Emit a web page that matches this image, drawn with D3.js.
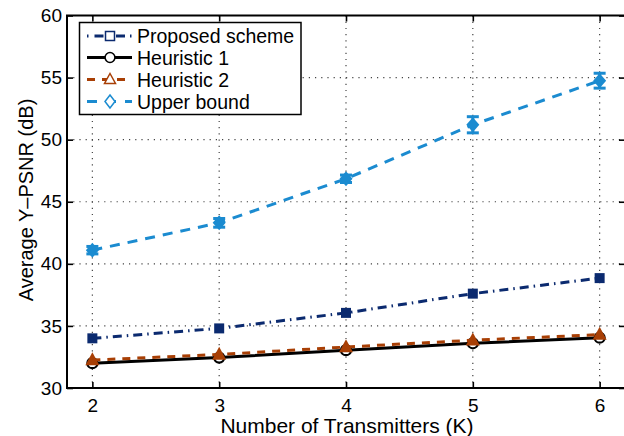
<!DOCTYPE html>
<html>
<head>
<meta charset="utf-8">
<script src="https://cdn.jsdelivr.net/npm/d3@7"></script>
<style>
  html, body { margin: 0; padding: 0; background: #fff; }
  svg { display: block; }
  text { font-family: "Liberation Sans", Arial, Helvetica, sans-serif; fill: #000; }
</style>
</head>
<body>
<svg id="chart" width="624" height="436"></svg>
<script>
// Number of transmitters on the x axis
const transmitters = [2, 3, 4, 5, 6];

// Average Y-PSNR (dB) for each scheme
const proposedScheme = [34.0, 34.8, 36.05, 37.6, 38.85];
const heuristic1 = [32.0, 32.45, 33.05, 33.6, 34.05];
const heuristic2 = [32.25, 32.7, 33.3, 33.85, 34.3];
const upperBound = [41.1, 43.3, 46.85, 51.2, 54.75];
const upperBoundErr = [0.3, 0.35, 0.3, 0.65, 0.6];

// Axis ticks
const xTicks = [2, 3, 4, 5, 6];
const yTicks = [30, 35, 40, 45, 50, 55, 60];

const seriesNames = ["Proposed scheme", "Heuristic 1", "Heuristic 2", "Upper bound"];

const svg = d3.select("#chart");
const W = 624, H = 436;
const plot = { left: 67, right: 625, top: 15.5, bottom: 388 };

svg.append("rect").attr("width", W).attr("height", H).attr("fill", "#fff");

const x = d3.scaleLinear().domain([1.8, 6.2]).range([plot.left, plot.right]);
const y = d3.scaleLinear().domain([30, 60]).range([plot.bottom, plot.top]);

// dotted grid
const grid = svg.append("g").attr("stroke", "#444").attr("stroke-width", 1.2)
  .attr("stroke-dasharray", "1.2,5");
grid.selectAll("line.gx").data(xTicks).join("line")
  .attr("x1", d => x(d)).attr("x2", d => x(d))
  .attr("y1", plot.top).attr("y2", plot.bottom);
grid.selectAll("line.gy").data(yTicks.slice(1, -1)).join("line")
  .attr("x1", plot.left).attr("x2", plot.right)
  .attr("y1", d => y(d)).attr("y2", d => y(d));

// axes with inward ticks on all four sides
const tickLen = 6;
const fmt = d3.format("d");
const axisBottom = d3.axisBottom(x).tickValues(xTicks).tickFormat(fmt)
  .tickSizeInner(-tickLen).tickSizeOuter(0).tickPadding(10.5);
const axisLeft = d3.axisLeft(y).tickValues(yTicks).tickFormat(fmt)
  .tickSizeInner(-tickLen).tickSizeOuter(0).tickPadding(5);
const axisTop = d3.axisTop(x).tickValues(xTicks).tickSizeInner(-tickLen).tickSizeOuter(0).tickFormat("");
const axisRight = d3.axisRight(y).tickValues(yTicks).tickSizeInner(-tickLen).tickSizeOuter(0).tickFormat("");

function styleAxis(g) {
  g.select(".domain").remove();
  g.selectAll(".tick line").attr("stroke", "#000").attr("stroke-width", 1.6);
  g.selectAll(".tick text").style("font-size", "19px")
    .style("font-family", "'Liberation Sans', Arial, sans-serif").attr("fill", "#000");
}
svg.append("g").attr("transform", `translate(0,${plot.bottom})`).call(axisBottom).call(styleAxis);
svg.append("g").attr("transform", `translate(${plot.left},0)`).call(axisLeft).call(styleAxis);
svg.append("g").attr("transform", `translate(0,${plot.top})`).call(axisTop).call(styleAxis);
svg.append("g").attr("transform", `translate(${plot.right},0)`).call(axisRight).call(styleAxis);

svg.append("rect")
  .attr("x", plot.left).attr("y", plot.top)
  .attr("width", plot.right - plot.left).attr("height", plot.bottom - plot.top)
  .attr("fill", "none").attr("stroke", "#000").attr("stroke-width", 2);

// axis titles
svg.append("text")
  .attr("x", (x(2) + x(6)) / 2 + 1).attr("y", 433)
  .attr("text-anchor", "middle").style("font-size", "21px")
  .text("Number of Transmitters (K)");
svg.append("text")
  .attr("transform", `translate(33,200) rotate(-90)`)
  .attr("text-anchor", "middle").style("font-size", "20px")
  .text("Average Y\u2013PSNR (dB)");

// series styles
const colors = {
  proposed: "#0b2a6f",
  h1: "#000000",
  h2: "#a83f05",
  upper: "#1b8bd0"
};

const line = d3.line().x((d, i) => x(transmitters[i])).y(d => y(d));

// marker shapes centred on the data point
const diamondPath = (hw, hh) => `M0,${-hh}L${hw},0L0,${hh}L${-hw},0Z`;
const trianglePath = (hw, h) => `M0,${-h * 0.6}L${hw},${h * 0.4}L${-hw},${h * 0.4}Z`;
const squarePath = s => `M${-s},${-s}H${s}V${s}H${-s}Z`;

// Upper bound: dashed line, error bars, diamonds
svg.append("path").datum(upperBound).attr("d", line)
  .attr("fill", "none").attr("stroke", colors.upper).attr("stroke-width", 3)
  .attr("stroke-dasharray", "10,8");
const eb = svg.append("g").attr("stroke", colors.upper).attr("stroke-width", 3);
upperBound.forEach((v, i) => {
  const cx = x(transmitters[i]);
  const e = upperBoundErr[i];
  eb.append("line").attr("x1", cx).attr("x2", cx).attr("y1", y(v - e)).attr("y2", y(v + e));
  eb.append("line").attr("x1", cx - 6).attr("x2", cx + 6).attr("y1", y(v - e)).attr("y2", y(v - e));
  eb.append("line").attr("x1", cx - 6).attr("x2", cx + 6).attr("y1", y(v + e)).attr("y2", y(v + e));
});
svg.append("g").selectAll("path").data(upperBound).join("path")
  .attr("transform", (d, i) => `translate(${x(transmitters[i])},${y(d)})`)
  .attr("d", diamondPath(6.5, 7.5)).attr("fill", colors.upper);

// Proposed scheme: dash-dot line with filled squares
svg.append("path").datum(proposedScheme).attr("d", line)
  .attr("fill", "none").attr("stroke", colors.proposed).attr("stroke-width", 3)
  .attr("stroke-dasharray", "9,5,1.5,5");
svg.append("g").selectAll("path").data(proposedScheme).join("path")
  .attr("transform", (d, i) => `translate(${x(transmitters[i])},${y(d)})`)
  .attr("d", squarePath(5)).attr("fill", colors.proposed);

// Heuristic 1: solid black line with open circles
svg.append("path").datum(heuristic1).attr("d", line)
  .attr("fill", "none").attr("stroke", colors.h1).attr("stroke-width", 3);
svg.append("g").selectAll("circle").data(heuristic1).join("circle")
  .attr("cx", (d, i) => x(transmitters[i])).attr("cy", d => y(d)).attr("r", 5)
  .attr("fill", "#fff").attr("stroke", colors.h1).attr("stroke-width", 2.2);

// Heuristic 2: dashed line with filled triangles
svg.append("path").datum(heuristic2).attr("d", line)
  .attr("fill", "none").attr("stroke", colors.h2).attr("stroke-width", 3)
  .attr("stroke-dasharray", "8,7");
svg.append("g").selectAll("path").data(heuristic2).join("path")
  .attr("transform", (d, i) => `translate(${x(transmitters[i])},${y(d)})`)
  .attr("d", trianglePath(7, 13)).attr("fill", colors.h2);

// legend
const lg = svg.append("g");
lg.append("rect").attr("x", 79.5).attr("y", 22.5).attr("width", 221.5).attr("height", 92)
  .attr("fill", "#fff").attr("stroke", "#000").attr("stroke-width", 1.5);
const rowY = [36, 57.5, 79.5, 101.5];
const lx0 = 87, lx1 = 132, lxm = 110;
const legendItems = [
  { name: seriesNames[0], color: colors.proposed, dash: "1.5,6,9,5" },
  { name: seriesNames[1], color: colors.h1, dash: null },
  { name: seriesNames[2], color: colors.h2, dash: "8,7" },
  { name: seriesNames[3], color: colors.upper, dash: "10,9" }
];
legendItems.forEach((it, i) => {
  const g = lg.append("g");
  const ln = g.append("line").attr("x1", lx0).attr("x2", lx1).attr("y1", rowY[i]).attr("y2", rowY[i])
    .attr("stroke", it.color).attr("stroke-width", 3);
  if (it.dash) ln.attr("stroke-dasharray", it.dash);
  const m = g.append("path").attr("transform", `translate(${lxm},${rowY[i]})`)
    .attr("fill", "#fff").attr("stroke", it.color).attr("stroke-width", 1.5);
  if (i === 0) m.attr("d", squarePath(4.5));
  else if (i === 1) m.attr("d", d3.symbol().type(d3.symbolCircle).size(75)());
  else if (i === 2) m.attr("d", trianglePath(5.5, 10));
  else m.attr("d", diamondPath(5, 6.5));
  g.append("text").attr("x", 137).attr("y", rowY[i] + 7).style("font-size", "19.5px").text(it.name);
});
</script>
</body>
</html>
